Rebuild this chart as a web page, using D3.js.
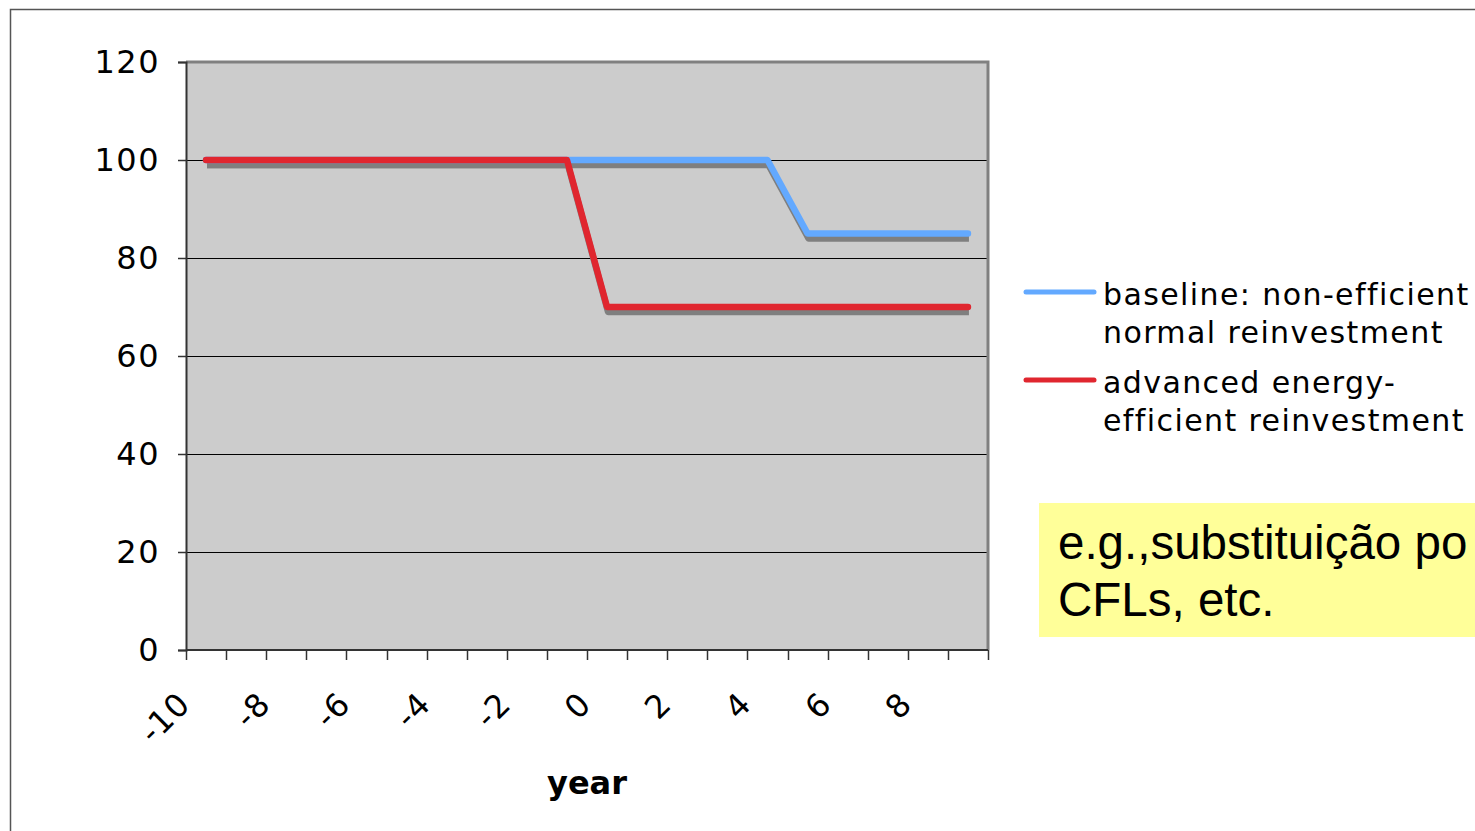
<!DOCTYPE html>
<html>
<head>
<meta charset="utf-8">
<script src="https://cdn.jsdelivr.net/npm/d3@7"></script>
<style>
  body { margin: 0; background: #fff; overflow: hidden; }
  svg { display: block; }
</style>
</head>
<body>
<div id="chart"></div>
<script>
// Chart data
const years = [-10, -9, -8, -7, -6, -5, -4, -3, -2, -1, 0, 1, 2, 3, 4, 5, 6, 7, 8, 9];
const baseline = [100, 100, 100, 100, 100, 100, 100, 100, 100, 100, 100, 100, 100, 100, 100, 85, 85, 85, 85, 85];
const advanced = [100, 100, 100, 100, 100, 100, 100, 100, 100, 100, 70, 70, 70, 70, 70, 70, 70, 70, 70, 70];
const yTicks = [0, 20, 40, 60, 80, 100, 120];
const xLabels = [-10, -8, -6, -4, -2, 0, 2, 4, 6, 8];
const seriesNames = [
    ['baseline: non-efficient', 'normal reinvestment'],
    ['advanced energy-', 'efficient reinvestment']
];
const noteLines = ['e.g.,substituição po', 'CFLs, etc.'];

const W = 1475, H = 831;
const plot = { left: 186, right: 988, top: 62, bottom: 650 };
const font = 'DejaVu Sans, Verdana, sans-serif';

const svg = d3.select('#chart').append('svg')
    .attr('width', W)
    .attr('height', H);

// Outer frame (top and left edges visible)
svg.append('path')
    .attr('d', `M10.5,${H} L10.5,9.5 L${W},9.5`)
    .attr('fill', 'none')
    .attr('stroke', '#555')
    .attr('stroke-width', 1.5);

// Scales
const x = d3.scaleBand().domain(years).range([plot.left, plot.right]);
const y = d3.scaleLinear().domain([0, 120]).range([plot.bottom, plot.top]);

// Plot area background
svg.append('rect')
    .attr('x', plot.left)
    .attr('y', plot.top)
    .attr('width', plot.right - plot.left)
    .attr('height', plot.bottom - plot.top)
    .attr('fill', '#cccccc');

// Gridlines
svg.append('g')
    .selectAll('line')
    .data(yTicks.filter(d => d > 0 && d < 120))
    .enter().append('line')
    .attr('x1', plot.left)
    .attr('x2', plot.right)
    .attr('y1', d => Math.round(y(d)) + 0.5)
    .attr('y2', d => Math.round(y(d)) + 0.5)
    .attr('stroke', '#000')
    .attr('stroke-width', 1);

// Plot border: top and right gray
svg.append('path')
    .attr('d', `M${plot.left},${plot.top} L${plot.right},${plot.top} L${plot.right},${plot.bottom}`)
    .attr('fill', 'none')
    .attr('stroke', '#808080')
    .attr('stroke-width', 3);

// Y axis
const yAxis = svg.append('g')
    .attr('transform', `translate(${plot.left},0)`)
    .call(d3.axisLeft(y).tickValues(yTicks).tickSize(8).tickPadding(18));
yAxis.select('.domain').attr('stroke', '#333').attr('stroke-width', 2);
yAxis.selectAll('.tick line').attr('stroke', '#333').attr('stroke-width', 1.5);
yAxis.selectAll('.tick text')
    .attr('font-family', font)
    .attr('font-size', 32)
    .attr('letter-spacing', 1.5)
    .attr('fill', '#000');

// X axis (ticks at category boundaries)
const boundaries = years.map(d => x(d)).concat([plot.right]);
const xAxisG = svg.append('g');
xAxisG.append('line')
    .attr('x1', plot.left).attr('x2', plot.right)
    .attr('y1', plot.bottom).attr('y2', plot.bottom)
    .attr('stroke', '#333').attr('stroke-width', 2);
xAxisG.selectAll('line.tick')
    .data(boundaries)
    .enter().append('line')
    .attr('class', 'tick')
    .attr('x1', d => Math.round(d) + 0.5).attr('x2', d => Math.round(d) + 0.5)
    .attr('y1', plot.bottom).attr('y2', plot.bottom + 10)
    .attr('stroke', '#333').attr('stroke-width', 1.5);
xAxisG.selectAll('text')
    .data(xLabels)
    .enter().append('text')
    .attr('transform', d => `translate(${x(d) + x.bandwidth() / 2 - 14},${plot.bottom + 56}) rotate(-45)`)
    .attr('text-anchor', 'end')
    .attr('font-family', font)
    .attr('font-size', 32)
    .attr('letter-spacing', 1)
    .attr('fill', '#000')
    .text(d => d);

svg.append('text')
    .attr('x', 587)
    .attr('y', 794)
    .attr('text-anchor', 'middle')
    .attr('font-family', font)
    .attr('font-weight', 'bold')
    .attr('font-size', 32)
    .text('year');

// Lines with shadow
const line = d3.line()
    .x((d, i) => x(years[i]) + x.bandwidth() / 2)
    .y(d => y(d));

const series = [
    { values: baseline, color: '#63a9ff' },
    { values: advanced, color: '#e0262f' }
];

series.forEach(s => {
    svg.append('path')
        .attr('d', line(s.values))
        .attr('transform', 'translate(1,5)')
        .attr('fill', 'none')
        .attr('stroke', '#7f7f7f')
        .attr('stroke-width', 6.5)
        .attr('stroke-linejoin', 'round');
});
series.forEach(s => {
    svg.append('path')
        .attr('d', line(s.values))
        .attr('fill', 'none')
        .attr('stroke', s.color)
        .attr('stroke-width', 6.5)
        .attr('stroke-linejoin', 'round')
        .attr('stroke-linecap', 'round');
});

// Legend
const legend = svg.append('g');
const legendY = [292, 380];
series.forEach((s, i) => {
    legend.append('line')
        .attr('x1', 1026).attr('x2', 1094)
        .attr('y1', legendY[i]).attr('y2', legendY[i])
        .attr('stroke', s.color)
        .attr('stroke-width', 5)
        .attr('stroke-linecap', 'round');
    const t = legend.append('text')
        .attr('font-family', font)
        .attr('font-size', 30)
        .attr('letter-spacing', 1.4)
        .attr('fill', '#000');
    seriesNames[i].forEach((ln, j) => {
        t.append('tspan')
            .attr('x', 1103)
            .attr('y', legendY[i] + 13 + j * 38)
            .text(ln);
    });
});

// Yellow note box
svg.append('rect')
    .attr('x', 1039).attr('y', 503)
    .attr('width', W - 1039).attr('height', 134)
    .attr('fill', '#ffff99');
const note = svg.append('text')
    .attr('font-family', 'Liberation Sans, Arial, sans-serif')
    .attr('font-size', 47.5)
    .attr('fill', '#000');
noteLines.forEach((ln, j) => {
    note.append('tspan')
        .attr('x', 1058)
        .attr('y', 559 + j * 57)
        .text(ln);
});
</script>
</body>
</html>
